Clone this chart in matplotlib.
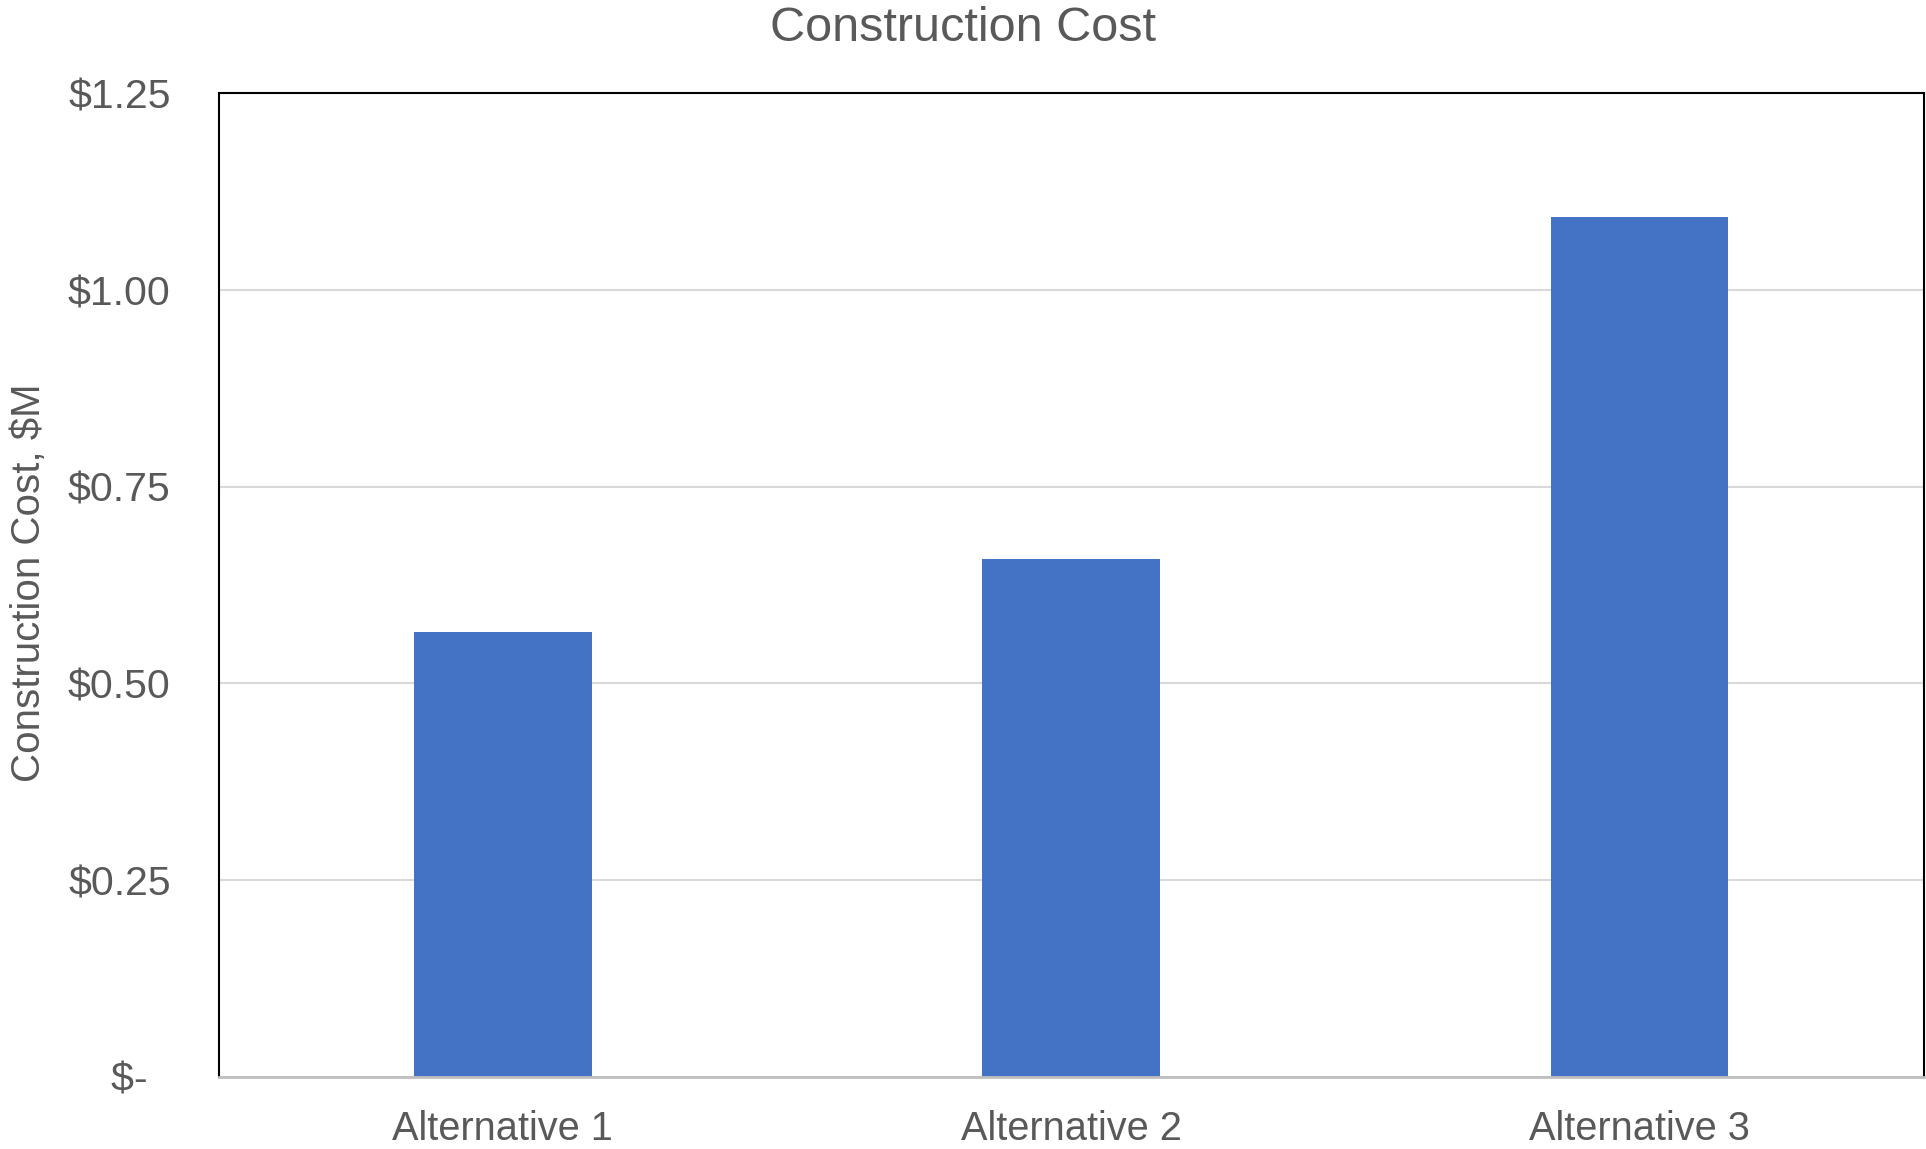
import matplotlib.pyplot as plt
from matplotlib.ticker import FuncFormatter

# chart data
categories = ["Alternative 1", "Alternative 2", "Alternative 3"]
costs = [0.565, 0.658, 1.093]          # construction cost, $M
y_ticks = [0.0, 0.25, 0.50, 0.75, 1.00, 1.25]

text_color = "#595959"
bar_color = "#4472C4"

plt.rcParams["font.family"] = ["Liberation Sans", "DejaVu Sans"]

fig = plt.figure(figsize=(19.26, 11.49), dpi=100)
ax = fig.add_axes([0.1135, 0.0627, 0.8853, 0.8561])

x = range(len(categories))
ax.bar(x, costs, width=0.313, color=bar_color, zorder=3)

ax.set_xlim(-0.5, len(categories) - 0.5)
ax.set_ylim(0, 1.25)
ax.set_yticks(y_ticks)


def dollar(v, pos):
    # excel accounting style: zero shows as a dash
    if abs(v) < 1e-9:
        return "$-  "
    return f"${v:.2f}"


ax.yaxis.set_major_formatter(FuncFormatter(dollar))
ax.set_xticks(list(x))
ax.set_xticklabels(categories)

ax.tick_params(axis="y", length=0, pad=34.5, labelsize=29.5, labelcolor=text_color)
ax.tick_params(axis="x", length=0, pad=24, labelsize=28.6, labelcolor=text_color)

ax.grid(axis="y", color="#D9D9D9", linewidth=1.5, zorder=0)
ax.set_axisbelow(True)

for side in ["left", "top", "right"]:
    ax.spines[side].set_color("black")
    ax.spines[side].set_linewidth(1.5)
ax.spines["bottom"].set_color("#BFBFBF")
ax.spines["bottom"].set_linewidth(2)
ax.spines["bottom"].set_zorder(4)

ax.set_ylabel("Construction Cost, $M", fontsize=29, color=text_color)
ax.yaxis.set_label_coords(-0.1, 0.502)

fig.text(0.5, 1 - 41 / 1149, "Construction Cost", ha="center", va="baseline",
         fontsize=35, color=text_color)

fig.savefig("out.png", dpi=100, facecolor="white")
